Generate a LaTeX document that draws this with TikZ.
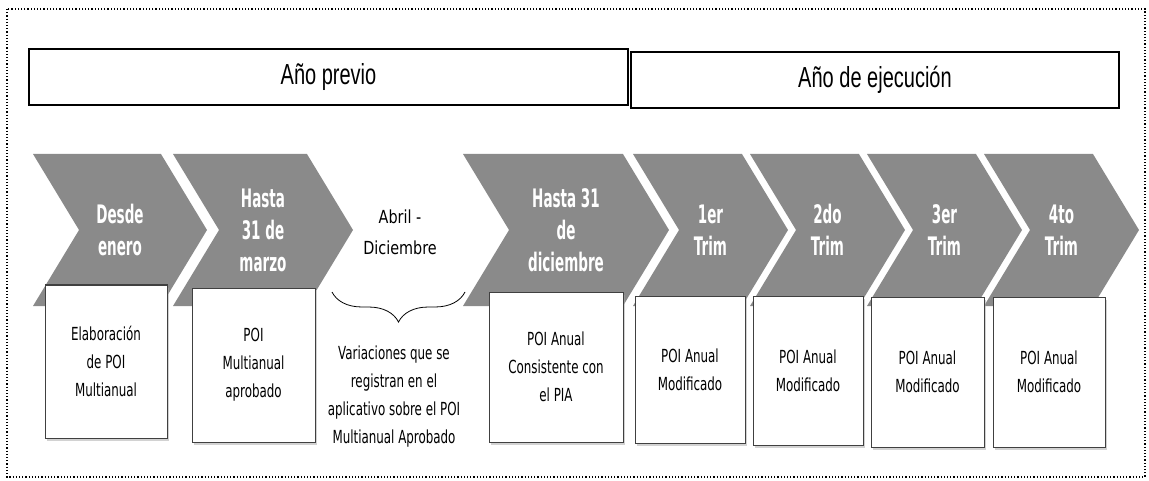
\documentclass[tikz,border=0pt]{standalone}
\usepackage{fontspec}
\usepackage{tikz}
\usetikzlibrary{positioning,shapes.symbols,shadows,decorations.pathreplacing}
\newfontfamily\hdrfont[FakeStretch=0.69]{Liberation Sans}
\newfontfamily\chevfont[FakeStretch=0.53]{DejaVu Sans}
\newfontfamily\bodyfont[FakeStretch=0.66]{DejaVu Sans}
\newfontfamily\notefont[FakeStretch=0.8]{DejaVu Sans}
\definecolor{chevgray}{RGB}{138,138,138}

\begin{document}
\begin{tikzpicture}[x=1pt,y=-1pt,
every node/.style={inner sep=0pt,align=center},
year/.style={draw,line width=2pt,minimum height=56pt,font=\hdrfont\fontsize{29}{34}\selectfont},
chevron/.style={signal,signal to=east,signal from=west,signal pointer angle=117.6,
  fill=chevgray,minimum height=152pt,text=white,font=\chevfont\bfseries\fontsize{25.5}{32}\selectfont},
stage/.style={draw=gray!50!black,line width=1pt,fill=white,
  drop shadow={shadow xshift=2pt,shadow yshift=-3pt,fill=gray!70},
  font=\bodyfont\fontsize{18}{28}\selectfont},
note/.style={font=\bodyfont\fontsize{18}{28}\selectfont}]
\useasboundingbox (0,0) rectangle (1149,481);
\draw[dotted,line width=1.2pt] (7,9) rectangle (1145,477);

\node[year,minimum width=599pt] (previo) at (328.5,77) {Año previo};
\node[year,minimum width=488pt] (ejecucion) at (875,80) {Año de ejecución};

\node[chevron,minimum width=174pt] (enero) at (120,230) {Desde\\enero};
\node[chevron,minimum width=180pt] (marzo) at (263,230) {Hasta\\31 de\\marzo};
\node[chevron,minimum width=206pt] (diciembre) at (566,230) {Hasta 31\\de\\diciembre};
\node[chevron,minimum width=155pt] (trim1) at (710.5,230) {1er\\Trim};
\node[chevron,minimum width=155pt] (trim2) at (827.5,230) {2do\\Trim};
\node[chevron,minimum width=155pt] (trim3) at (944.5,230) {3er\\Trim};
\node[chevron,minimum width=155pt] (trim4) at (1061.5,230) {4to\\Trim};

\node[stage,minimum width=122pt,minimum height=153pt] (elab) at (106,361.5) {Elaboración\\de POI\\Multianual};
\node[stage,minimum width=123pt,minimum height=154pt] (aprob) at (253.5,365) {POI\\Multianual\\aprobado};
\node[stage,minimum width=134pt,minimum height=150pt] (pia) at (556,367) {POI Anual\\Consistente con\\el PIA};
\node[stage,minimum width=110pt,minimum height=147pt] (mod1) at (690,369.5) {POI Anual\\Modificado};
\node[stage,minimum width=110pt,minimum height=149pt] (mod2) at (808,370.5) {POI Anual\\Modificado};
\node[stage,minimum width=113pt,minimum height=150pt] (mod3) at (927.5,372) {POI Anual\\Modificado};
\node[stage,minimum width=112pt,minimum height=150pt] (mod4) at (1049,372) {POI Anual\\Modificado};

\node[note,font=\notefont\fontsize{18}{31}\selectfont] (abril) at (400,232) {Abril -\\Diciembre};
\coordinate (bl) at (332,292);
\coordinate (br) at (465,292);
\draw[decorate,decoration={brace,mirror,amplitude=30pt},line width=0.8pt] (bl) -- (br);
\node[note] (variac) at (394,397) {Variaciones que se\\registran en el\\aplicativo sobre el POI\\Multianual Aprobado};
\end{tikzpicture}
\end{document}
